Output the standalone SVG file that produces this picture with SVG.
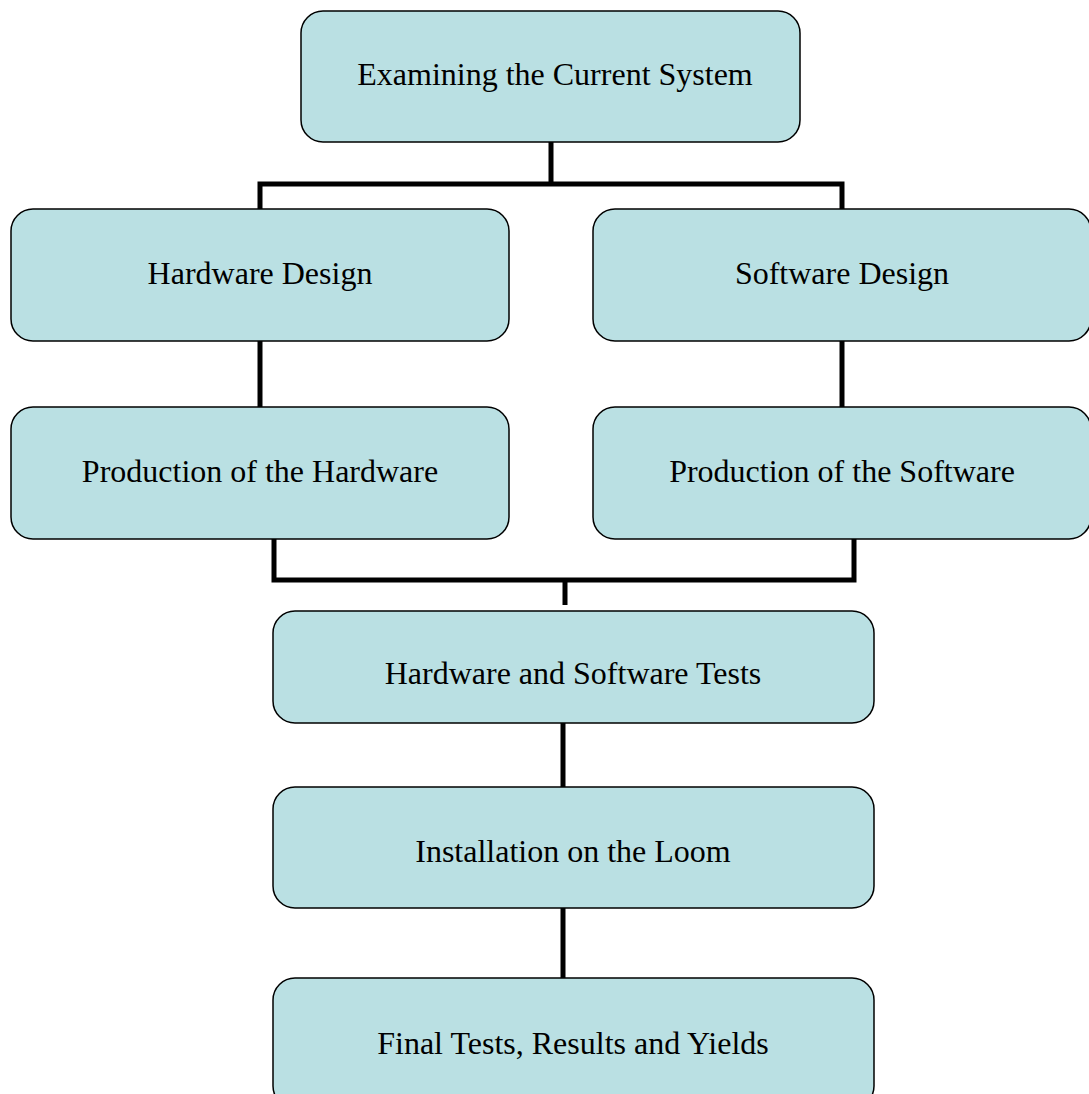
<svg xmlns="http://www.w3.org/2000/svg" width="1089" height="1094" viewBox="0 0 1089 1094">
  <style>
    .box { fill: #bae0e3; stroke: #000; stroke-width: 1.5; }
    .label { font-family: "Liberation Serif", "Times New Roman", serif; font-size: 32px; fill: #000; text-anchor: middle; dominant-baseline: central; }
    .wire { fill: none; stroke: #000; stroke-width: 5; stroke-linecap: butt; stroke-linejoin: miter; }
  </style>
  <rect width="1089" height="1094" fill="#fff"/>

  <!-- connectors -->
  <g id="connectors">
    <path class="wire" d="M551 142 V184 M260 209 V184 H842 V209"/>
    <path class="wire" d="M260 341 V407"/>
    <path class="wire" d="M842 341 V407"/>
    <path class="wire" d="M274 539 V580 H854 V539"/>
    <path class="wire" d="M565 580 V605"/>
    <path class="wire" d="M563 723 V787"/>
    <path class="wire" d="M563 908 V978"/>
  </g>

  <g id="examine">
    <rect class="box" x="301" y="11" width="499" height="131" rx="22"/>
    <text class="label" x="555" y="74">Examining the Current System</text>
  </g>
  <g id="hw-design">
    <rect class="box" x="11" y="209" width="498" height="132" rx="22"/>
    <text class="label" x="260" y="273">Hardware Design</text>
  </g>
  <g id="sw-design">
    <rect class="box" x="593" y="209" width="498" height="132" rx="22"/>
    <text class="label" x="842" y="273">Software Design</text>
  </g>
  <g id="hw-production">
    <rect class="box" x="11" y="407" width="498" height="132" rx="22"/>
    <text class="label" x="260" y="471">Production of the Hardware</text>
  </g>
  <g id="sw-production">
    <rect class="box" x="593" y="407" width="498" height="132" rx="22"/>
    <text class="label" x="842" y="471">Production of the Software</text>
  </g>
  <g id="tests">
    <rect class="box" x="273" y="611" width="601" height="112" rx="22"/>
    <text class="label" x="573" y="673">Hardware and Software Tests</text>
  </g>
  <g id="installation">
    <rect class="box" x="273" y="787" width="601" height="121" rx="22"/>
    <text class="label" x="573" y="851">Installation on the Loom</text>
  </g>
  <g id="final">
    <rect class="box" x="273" y="978" width="601" height="130" rx="22"/>
    <text class="label" x="573" y="1043">Final Tests, Results and Yields</text>
  </g>
</svg>
